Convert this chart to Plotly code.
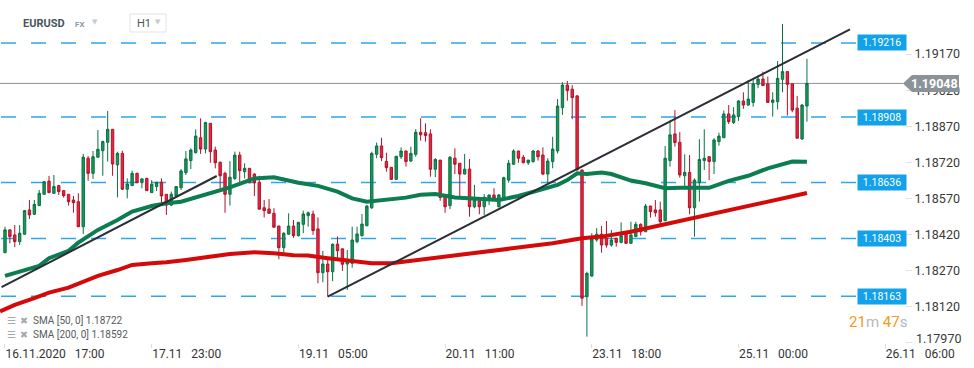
import plotly.graph_objects as go

# ---------------- data ----------------
open_prices = [1.18344,1.18439,1.18418,1.18390,1.18421,1.18522,1.18504,1.18540,1.18587,1.18642,
1.18591,1.18623,1.18602,1.18587,1.18563,1.18556,1.18452,1.18737,1.18674,1.18741,
1.18768,1.18803,1.18857,1.18709,1.18757,1.18608,1.18623,1.18674,1.18635,1.18653,
1.18594,1.18619,1.18637,1.18587,1.18542,1.18580,1.18614,1.18677,1.18727,1.18760,
1.18822,1.18775,1.18882,1.18771,1.18720,1.18674,1.18587,1.18653,1.18750,1.18681,
1.18695,1.18671,1.18637,1.18531,1.18526,1.18508,1.18455,1.18365,1.18421,1.18455,
1.18415,1.18462,1.18498,1.18505,1.18443,1.18261,1.18297,1.18265,1.18380,1.18360,
1.18297,1.18300,1.18390,1.18415,1.18456,1.18531,1.18753,1.18788,1.18723,1.18699,
1.18649,1.18743,1.18767,1.18725,1.18753,1.18845,1.18843,1.18838,1.18691,1.18729,
1.18584,1.18540,1.18737,1.18716,1.18671,1.18692,1.18535,1.18559,1.18535,1.18573,
1.18584,1.18535,1.18573,1.18646,1.18712,1.18767,1.18741,1.18718,1.18723,1.18767,
1.18750,1.18671,1.18723,1.18767,1.18947,1.19041,1.19024,1.18996,1.18688,1.18161,
1.18247,1.18397,1.18421,1.18404,1.18376,1.18404,1.18387,1.18425,1.18383,1.18411,
1.18462,1.18431,1.18538,1.18522,1.18522,1.18477,1.18727,1.18838,1.18803,1.18664,
1.18678,1.18531,1.18635,1.18727,1.18743,1.18723,1.18806,1.18822,1.18921,1.18885,
1.18910,1.18975,1.18958,1.18969,1.19044,1.19066,1.19046,1.18969,1.18972,1.19065,
1.19097,1.19046,1.18945,1.18817,1.18954]

high_prices = [1.18452,1.18440,1.18459,1.18459,1.18522,1.18563,1.18563,1.18605,1.18643,1.18663,
1.18667,1.18626,1.18605,1.18588,1.18580,1.18591,1.18755,1.18746,1.18767,1.18854,
1.18810,1.18933,1.18858,1.18764,1.18768,1.18653,1.18685,1.18677,1.18653,1.18656,
1.18646,1.18638,1.18653,1.18588,1.18598,1.18621,1.18692,1.18767,1.18778,1.18857,
1.18903,1.18889,1.18883,1.18785,1.18723,1.18681,1.18725,1.18764,1.18764,1.18716,
1.18696,1.18674,1.18664,1.18563,1.18567,1.18529,1.18456,1.18429,1.18508,1.18480,
1.18473,1.18519,1.18515,1.18519,1.18491,1.18351,1.18317,1.18383,1.18411,1.18362,
1.18355,1.18452,1.18452,1.18505,1.18542,1.18764,1.18802,1.18822,1.18760,1.18700,
1.18746,1.18782,1.18768,1.18785,1.18858,1.18903,1.18882,1.18857,1.18737,1.18730,
1.18585,1.18746,1.18778,1.18717,1.18755,1.18734,1.18626,1.18563,1.18588,1.18585,
1.18612,1.18588,1.18660,1.18730,1.18774,1.18768,1.18750,1.18730,1.18771,1.18771,
1.18782,1.18737,1.18826,1.18983,1.19053,1.19058,1.19041,1.19000,1.18689,1.18265,
1.18425,1.18446,1.18455,1.18476,1.18439,1.18406,1.18470,1.18431,1.18473,1.18473,
1.18466,1.18547,1.18539,1.18563,1.18556,1.18788,1.18893,1.18937,1.18845,1.18753,
1.18750,1.18653,1.18816,1.18857,1.18746,1.18820,1.18843,1.18935,1.18958,1.18949,
1.18978,1.19011,1.19062,1.19062,1.19080,1.19097,1.19076,1.19011,1.19141,1.19295,
1.19098,1.19047,1.18996,1.18962,1.19150]

low_prices = [1.18344,1.18383,1.18367,1.18376,1.18418,1.18484,1.18501,1.18538,1.18587,1.18591,
1.18588,1.18584,1.18573,1.18540,1.18510,1.18452,1.18422,1.18643,1.18651,1.18740,
1.18664,1.18723,1.18664,1.18574,1.18605,1.18570,1.18622,1.18633,1.18612,1.18602,
1.18593,1.18601,1.18550,1.18501,1.18538,1.18577,1.18605,1.18667,1.18692,1.18757,
1.18755,1.18757,1.18718,1.18695,1.18612,1.18510,1.18540,1.18646,1.18622,1.18653,
1.18635,1.18580,1.18525,1.18491,1.18505,1.18450,1.18317,1.18344,1.18418,1.18406,
1.18411,1.18425,1.18452,1.18418,1.18217,1.18221,1.18161,1.18226,1.18314,1.18268,
1.18189,1.18282,1.18383,1.18411,1.18456,1.18526,1.18737,1.18725,1.18681,1.18649,
1.18648,1.18734,1.18702,1.18722,1.18743,1.18810,1.18806,1.18660,1.18658,1.18560,
1.18510,1.18525,1.18671,1.18570,1.18670,1.18494,1.18529,1.18504,1.18501,1.18542,
1.18563,1.18533,1.18566,1.18635,1.18709,1.18718,1.18716,1.18709,1.18718,1.18727,
1.18667,1.18635,1.18695,1.18757,1.18917,1.18976,1.18899,1.18688,1.18123,1.17995,
1.18244,1.18390,1.18344,1.18365,1.18369,1.18369,1.18383,1.18383,1.18380,1.18410,
1.18415,1.18430,1.18490,1.18494,1.18452,1.18476,1.18702,1.18785,1.18656,1.18608,
1.18504,1.18411,1.18556,1.18688,1.18646,1.18671,1.18789,1.18821,1.18879,1.18879,
1.18892,1.18942,1.18955,1.18951,1.19028,1.19039,1.18969,1.18910,1.18940,1.19011,
1.18914,1.18928,1.18820,1.18813,1.18889]

close_prices = [1.18439,1.18411,1.18390,1.18425,1.18519,1.18501,1.18545,1.18591,1.18639,1.18594,
1.18619,1.18598,1.18581,1.18556,1.18552,1.18452,1.18741,1.18674,1.18743,1.18774,
1.18806,1.18857,1.18713,1.18757,1.18608,1.18630,1.18674,1.18635,1.18651,1.18602,
1.18629,1.18637,1.18580,1.18542,1.18587,1.18619,1.18684,1.18734,1.18771,1.18829,
1.18775,1.18885,1.18764,1.18718,1.18664,1.18587,1.18658,1.18750,1.18685,1.18695,
1.18635,1.18635,1.18525,1.18519,1.18508,1.18450,1.18365,1.18425,1.18455,1.18415,
1.18470,1.18505,1.18510,1.18436,1.18261,1.18297,1.18265,1.18379,1.18352,1.18296,
1.18310,1.18397,1.18422,1.18463,1.18538,1.18757,1.18788,1.18739,1.18698,1.18649,
1.18745,1.18767,1.18723,1.18757,1.18845,1.18834,1.18831,1.18691,1.18732,1.18574,
1.18535,1.18741,1.18712,1.18671,1.18691,1.18535,1.18563,1.18535,1.18574,1.18584,
1.18570,1.18584,1.18656,1.18716,1.18767,1.18737,1.18718,1.18729,1.18767,1.18743,
1.18671,1.18725,1.18775,1.18954,1.19041,1.19018,1.18989,1.18688,1.18155,1.18258,
1.18401,1.18421,1.18376,1.18376,1.18397,1.18387,1.18415,1.18383,1.18418,1.18462,
1.18431,1.18538,1.18515,1.18510,1.18473,1.18737,1.18834,1.18802,1.18667,1.18678,
1.18531,1.18646,1.18732,1.18737,1.18723,1.18813,1.18829,1.18921,1.18889,1.18917,
1.18975,1.18958,1.18983,1.19046,1.19066,1.19039,1.18969,1.18979,1.19069,1.19097,
1.19044,1.18937,1.18820,1.18958,1.19048]

# SMA 50 (bar number, value)
sma50_bars = [0,7,9,13,15,19,23,26,30,33,36,40,43,46,51,55,60,64,68,71,74,78,82,85,88,92,97,101,
              105,109,113,115,117,119,122,124,128,131,135,138,144,148,152,156,161,164]
sma50_vals = [1.18248,1.18289,1.18321,1.18352,1.18386,1.18439,1.18480,1.18515,1.18538,1.18550,
              1.18556,1.18580,1.18598,1.18616,1.18653,1.18658,1.18635,1.18622,1.18598,1.18570,
              1.18556,1.18566,1.18573,1.18585,1.18588,1.18574,1.18570,1.18563,1.18580,1.18602,
              1.18626,1.18646,1.18674,1.18671,1.18677,1.18671,1.18644,1.18633,1.18612,1.18614,
              1.18614,1.18643,1.18664,1.18695,1.18723,1.18722]

# SMA 200
sma200_bars = [-1,2,6,9,13,16,19,23,26,30,33,37,40,43,46,51,55,59,62,66,71,75,79,83,86,92,98,
               105,112,118,122,128,135,141,148,155,164]
sma200_vals = [1.18100,1.18127,1.18155,1.18178,1.18199,1.18224,1.18248,1.18272,1.18293,1.18300,
               1.18304,1.18314,1.18323,1.18332,1.18339,1.18346,1.18342,1.18333,1.18332,1.18321,
               1.18307,1.18300,1.18300,1.18310,1.18318,1.18332,1.18348,1.18367,1.18383,1.18404,
               1.18411,1.18431,1.18462,1.18490,1.18518,1.18550,1.18592]

# hand-drawn trend lines (bar position, price)
trend1_bars = [-0.7, 43.3]
trend1_vals = [1.18201, 1.18663]
trend2_bars = [66, 172.8]
trend2_vals = [1.18161, 1.19273]

level_prices = [1.19216, 1.18908, 1.18636, 1.18403, 1.18163]
current_price = 1.19048
sma50_last = 1.18722
sma200_last = 1.18592

tick_bars = [0, 30, 60, 90, 120, 150, 180]
tick_labels = ["16.11.2020\u00a0\u00a0\u00a017:00", "17.11\u00a0\u00a0\u00a023:00",
               "19.11\u00a0\u00a0\u00a005:00", "20.11\u00a0\u00a0\u00a011:00",
               "23.11\u00a0\u00a0\u00a018:00", "25.11\u00a0\u00a0\u00a000:00",
               "26.11\u00a0\u00a0\u00a006:00"]
price_ticks = [1.17970, 1.18120, 1.18270, 1.18420, 1.18570, 1.18720, 1.18870, 1.19020, 1.19170]

bar_index = list(range(len(close_prices)))

# ---------------- layout geometry ----------------
W, H = 974, 368
PL, PR, PT, PB = 0, 905, 8, 343        # plot area in pixels
Y_MIN, Y_MAX = 1.179686, 1.193615
X_MIN, X_MAX = -1.02, 184.05
FONT = "Roboto"


def px(x):
    return (x - PL) / (PR - PL)


def py(y):
    return (PB - y) / (PB - PT)


def pp(price):
    return (price - Y_MIN) / (Y_MAX - Y_MIN)


fig = go.Figure()

fig.add_trace(go.Scatter(x=sma200_bars, y=sma200_vals, mode="lines",
                         line=dict(color="#d40a0a", width=4), hoverinfo="skip", showlegend=False))
fig.add_trace(go.Scatter(x=sma50_bars, y=sma50_vals, mode="lines",
                         line=dict(color="#0b7d50", width=4), hoverinfo="skip", showlegend=False))

fig.add_trace(go.Candlestick(
    x=bar_index, open=open_prices, high=high_prices, low=low_prices, close=close_prices,
    increasing=dict(line=dict(color="#0b7042", width=1), fillcolor="#17995d"),
    decreasing=dict(line=dict(color="#b3112a", width=1), fillcolor="#e6283f"),
    whiskerwidth=0, hoverinfo="skip", showlegend=False))

for bx, by in ((trend1_bars, trend1_vals), (trend2_bars, trend2_vals)):
    fig.add_trace(go.Scatter(x=bx, y=by, mode="lines", line=dict(color="#2a2e35", width=2),
                             hoverinfo="skip", showlegend=False))

shapes = []
annotations = []
for lv in level_prices:
    shapes.append(dict(type="line", xref="paper", yref="y", x0=px(1), x1=px(857), y0=lv, y1=lv,
                       line=dict(color="#2ea7e8", width=1.6, dash="15px,15px"), layer="below"))
    annotations.append(dict(xref="paper", yref="y", x=px(857), y=lv, xanchor="left", yanchor="middle",
                            text=f"{lv:.5f}", showarrow=False, bgcolor="#13a2ea", width=44, height=11,
                            borderpad=2, font=dict(family=FONT, size=10.5, color="white")))

# current price line and label
shapes.append(dict(type="line", xref="paper", yref="y", x0=0, x1=px(903), y0=current_price, y1=current_price,
                   line=dict(color="#8b9298", width=1), layer="below"))
cy = pp(current_price)
hh = 8.5 / (PB - PT)
shapes.append(dict(type="path", xref="paper", yref="paper",
                   path=f"M {px(903)},{cy} L {px(912)},{cy + hh} L {px(959)},{cy + hh} "
                        f"L {px(959)},{cy - hh} L {px(912)},{cy - hh} Z",
                   fillcolor="#8b9298", line=dict(width=0), layer="above"))
annotations.append(dict(xref="paper", yref="paper", x=px(935), y=cy, xanchor="center", yanchor="middle",
                        text=f"<b>{current_price:.5f}</b>", showarrow=False,
                        font=dict(family=FONT, size=12.5, color="white")))

# lowest price label sits a little higher than its tick, as in the source chart
price_ticktext = [f"{v:.5f}" for v in price_ticks]
price_ticktext[0] = ""
annotations.append(dict(xref="paper", yref="paper", x=px(914), y=py(338), xanchor="left", yanchor="middle",
                        text=f"{price_ticks[0]:.5f}", showarrow=False,
                        font=dict(family=FONT, size=12.5, color="#3a3a3a")))

# header
annotations += [
    dict(xref="paper", yref="paper", x=px(21), y=py(23), xanchor="left", yanchor="middle",
         text="<b>EURUSD</b>", showarrow=False, font=dict(family=FONT, size=11, color="#4a5561")),
    dict(xref="paper", yref="paper", x=px(73), y=py(24), xanchor="left", yanchor="middle",
         text="<b>FX</b>", showarrow=False, font=dict(family=FONT, size=8, color="#8d99a5")),
    dict(xref="paper", yref="paper", x=px(90), y=py(21.5), xanchor="left", yanchor="middle",
         text="\u25bc", showarrow=False, font=dict(family="DejaVu Sans", size=7, color="#c5cbd1")),
    dict(xref="paper", yref="paper", x=px(135), y=py(23), xanchor="left", yanchor="middle",
         text="H1", showarrow=False, font=dict(family=FONT, size=11, color="#4a5561")),
    dict(xref="paper", yref="paper", x=px(153), y=py(22), xanchor="left", yanchor="middle",
         text="\u25bc", showarrow=False, font=dict(family="DejaVu Sans", size=7, color="#c5cbd1")),
]
shapes.append(dict(type="rect", xref="paper", yref="paper", x0=px(130), x1=px(166), y0=py(14), y1=py(32),
                   line=dict(color="#dfe3e7", width=1), fillcolor="white", layer="above"))

# SMA legend
for yy, txt in ((320, f"SMA [50, 0] {sma50_last:.5f}"), (334, f"SMA [200, 0] {sma200_last:.5f}")):
    annotations.append(dict(xref="paper", yref="paper", x=px(5), y=py(yy), xanchor="left", yanchor="middle",
                            text="\u2630", showarrow=False,
                            font=dict(family="DejaVu Sans", size=10, color="#a3a9af")))
    annotations.append(dict(xref="paper", yref="paper", x=px(18), y=py(yy), xanchor="left", yanchor="middle",
                            text="\u2716", showarrow=False,
                            font=dict(family="DejaVu Sans", size=9.5, color="#a3a9af")))
    annotations.append(dict(xref="paper", yref="paper", x=px(31), y=py(yy), xanchor="left", yanchor="middle",
                            text=txt, showarrow=False, font=dict(family=FONT, size=10, color="#555b61")))

# countdown
annotations.append(dict(xref="paper", yref="paper", x=px(847), y=py(322), xanchor="left", yanchor="middle",
                        text='<span style="color:#f29a18">21</span><span style="color:#b5b9bd">m</span> '
                             '<span style="color:#f29a18">47</span><span style="color:#b5b9bd">s</span>',
                        showarrow=False, font=dict(family=FONT, size=15)))

fig.update_layout(
    width=W, height=H, autosize=False,
    margin=dict(l=PL, r=W - PR, t=PT, b=H - PB, pad=0),
    paper_bgcolor="white", plot_bgcolor="white",
    hovermode=False, dragmode=False,
    shapes=shapes, annotations=annotations,
    font=dict(family=FONT, color="#333"),
    xaxis=dict(range=[X_MIN, X_MAX], tickvals=tick_bars, ticktext=tick_labels,
               ticklabelposition="outside right", ticks="outside", ticklen=4, tickcolor="#dcdcdc",
               tickfont=dict(family=FONT, size=12, color="#333"),
               showgrid=False, zeroline=False, showline=False, rangeslider=dict(visible=False)),
    yaxis=dict(range=[Y_MIN, Y_MAX], side="right", tickvals=price_ticks,
               ticktext=price_ticktext, ticks="outside", ticklen=6, tickcolor="#e0e0e0",
               tickfont=dict(family=FONT, size=12.5, color="#3a3a3a"),
               showgrid=False, zeroline=False, showline=False),
)

fig.write_html("out.html", config={"displayModeBar": False, "staticPlot": True},
               post_script="document.body.style.margin='0';document.body.style.overflow='hidden';")
